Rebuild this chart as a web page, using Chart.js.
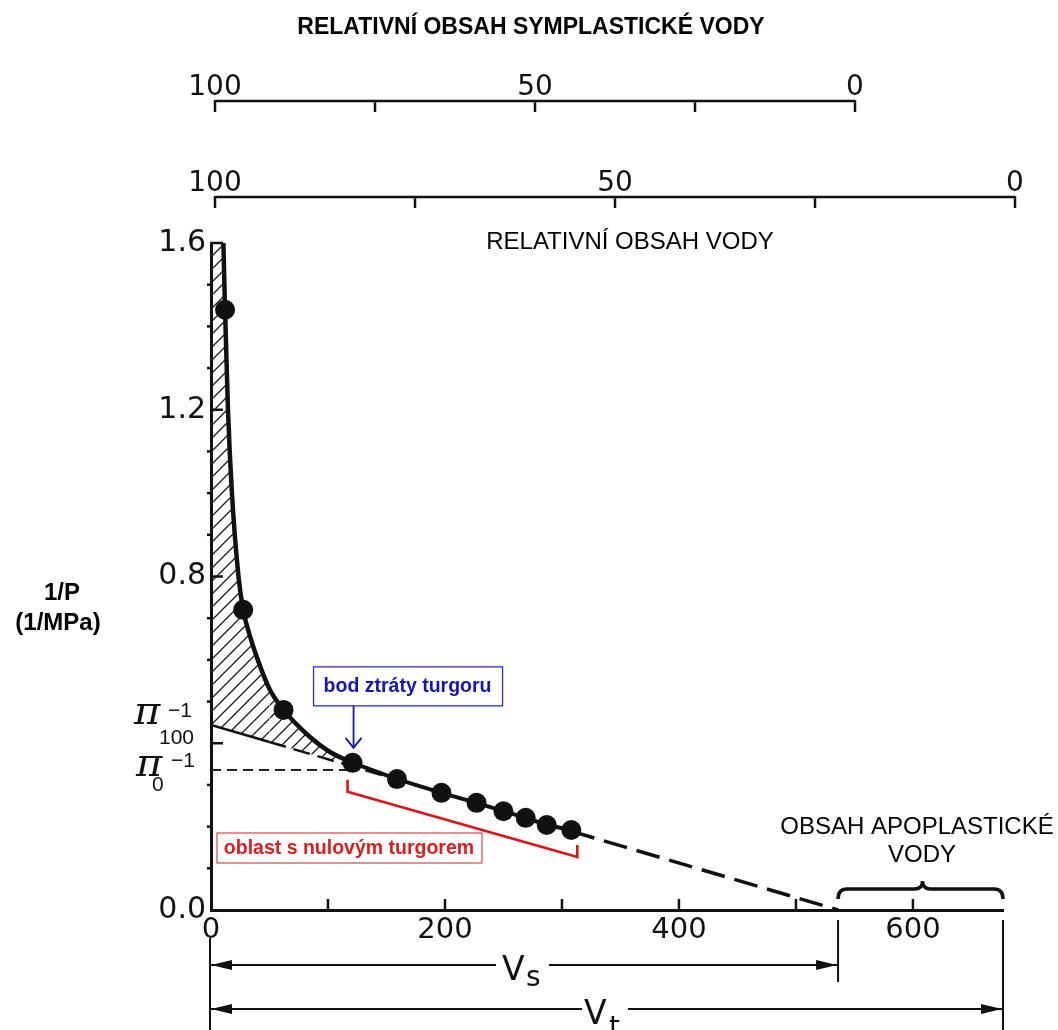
<!DOCTYPE html>
<html>
<head>
<meta charset="utf-8">
<title>Tlakově-objemová křivka</title>
<script src="https://cdn.jsdelivr.net/npm/chart.js@4.4.1/dist/chart.umd.min.js"></script>
<style>
  html, body { margin: 0; padding: 0; background: #fff; }
  #wrap { width: 1058px; height: 1030px; position: relative; }
</style>
</head>
<body>
<div id="wrap"><canvas id="pv"></canvas></div>
<script>
// measured points: expelled volume (x) vs. inverse balancing pressure 1/P (y)
const volume = [12, 27.5, 62, 121, 159, 197, 227, 250, 269, 287, 308];
const invPressure = [1.44, 0.72, 0.48, 0.353, 0.314, 0.281, 0.257, 0.237, 0.221, 0.204, 0.192];

// smooth curve through the turgid part
const curveVolume = [10.6, 12, 14.5, 17.9, 23.5, 27.5, 33, 40, 50, 62, 84.6, 101.7, 121];
const curveInvP = [1.6, 1.44, 1.2, 1.0, 0.8, 0.72, 0.66, 0.60, 0.53, 0.48, 0.415, 0.379, 0.353];

// straight line of the zero-turgor part, extended to both axes
const fitVolume = [0, 50, 308, 536];
const fitInvP = [0.444, 0.403, 0.189, 0];

const invPi0 = 0.336;       // 1/pi at turgor loss
const lossIndex = 3;        // turgor loss point in volume[]
const totalVolume = 677;    // Vt

const xTickValues = [0, 100, 200, 300, 400, 500, 600];
const xTickLabels = ['0', '200', '400', '600'];
const yTickValues = [0, 0.1, 0.2, 0.3, 0.4, 0.5, 0.6, 0.7, 0.8, 0.9, 1.0, 1.1, 1.2, 1.3, 1.4, 1.5, 1.6];
const yMajor = [0.4, 0.8, 1.2, 1.6];
const yTickLabels = ['0.0', '0.8', '1.2', '1.6'];

// upper scales: relative symplastic water content, relative water content
const symTicks = [100, 75, 50, 25, 0];
const rwcTicks = [100, 75, 50, 25, 0];

const ink = '#111';
const numFont = '"DejaVu Sans", sans-serif';
const textFont = '"Liberation Sans", Arial, sans-serif';

function hatchPattern() {
    const c = document.createElement('canvas');
    c.width = c.height = 13;
    const g = c.getContext('2d');
    g.strokeStyle = '#1a1a1a';
    g.lineWidth = 1.3;
    g.beginPath();
    g.moveTo(-1, 14); g.lineTo(14, -1);
    g.moveTo(-1, 1); g.lineTo(1, -1);
    g.moveTo(12, 14); g.lineTo(14, 12);
    g.stroke();
    return document.createElement('canvas').getContext('2d').createPattern(c, 'repeat');
}

const pts = (xs, ys) => xs.map((v, i) => ({ x: v, y: ys[i] }));
const dots = pts(volume, invPressure);
const curve = pts(curveVolume, curveInvP);

function line(ctx, x0, y0, x1, y1) {
    ctx.beginPath(); ctx.moveTo(x0, y0); ctx.lineTo(x1, y1); ctx.stroke();
}

function arrowHead(ctx, tipX, y, dir) {
    ctx.beginPath();
    ctx.moveTo(tipX, y);
    ctx.lineTo(tipX - dir * 21, y - 5);
    ctx.lineTo(tipX - dir * 21, y + 5);
    ctx.closePath();
    ctx.fill();
}

// axes ticks, upper scales, labels and dimension marks
const decor = {
    id: 'decor',
    afterDraw(chart) {
        const { ctx, chartArea: a } = chart;
        const { x, y, sym, rwc } = chart.scales;
        ctx.save();
        ctx.strokeStyle = ink;
        ctx.fillStyle = ink;
        ctx.lineCap = 'butt';

        // inward major ticks, small outer minor ticks
        ctx.lineWidth = 2.5;
        yTickValues.forEach(v => {
            if (v === 0) return;
            const py = y.getPixelForValue(v);
            if (yMajor.includes(v)) line(ctx, a.left, py, a.left + 12, py);
            else line(ctx, a.left - 4, py, a.left, py);
        });
        xTickValues.forEach(v => {
            if (v === 0) return;
            const px = x.getPixelForValue(v);
            line(ctx, px, a.bottom, px, a.bottom - 11);
        });

        // upper scales
        const topAxis = (scale, ticks, ly) => {
            ctx.lineWidth = 2.5;
            line(ctx, scale.getPixelForValue(ticks[0]), ly, scale.getPixelForValue(ticks[ticks.length - 1]), ly);
            ctx.font = '28px ' + numFont;
            ctx.textAlign = 'center';
            ctx.textBaseline = 'alphabetic';
            ticks.forEach(t => {
                const px = scale.getPixelForValue(t);
                line(ctx, px, ly - 1, px, ly + 11);
                if (t % 50 === 0) ctx.fillText(String(t), px, ly - 6);
            });
        };
        topAxis(sym, symTicks, 101);
        topAxis(rwc, rwcTicks, 197);

        ctx.textAlign = 'center';
        ctx.fillStyle = '#000';
        ctx.font = 'bold 23px ' + textFont;
        ctx.fillText('RELATIVNÍ OBSAH SYMPLASTICKÉ VODY', 531, 34);
        ctx.font = '24px ' + textFont;
        ctx.fillText('RELATIVNÍ OBSAH VODY', 630, 249);
        ctx.fillText('OBSAH APOPLASTICKÉ', 917, 834);
        ctx.fillText('VODY', 922, 862);

        // y axis title
        ctx.font = 'bold 24px ' + textFont;
        ctx.fillText('1/P', 62, 600);
        ctx.fillText('(1/MPa)', 58, 630);

        // pi labels on the y axis
        ctx.fillStyle = ink;
        const p100 = y.getPixelForValue(fitInvP[0]);
        const p0 = y.getPixelForValue(invPi0);
        ctx.textAlign = 'left';
        ctx.font = 'italic 40px "DejaVu Serif", serif';
        ctx.fillText('π', 134, p100 - 1);
        ctx.fillText('π', 136, p0 + 6);
        ctx.font = '21px ' + textFont;
        ctx.fillText('−1', 168, p100 - 8);
        ctx.fillText('100', 159, p100 + 19);
        ctx.fillText('−1', 171, p0 - 3);
        ctx.fillText('0', 152, p0 + 21);

        // brace over the apoplastic water
        const pOrigin = x.getPixelForValue(0);
        const pVs = x.getPixelForValue(fitVolume[fitVolume.length - 1]);
        const pVt = x.getPixelForValue(totalVolume);
        const pMid = (pVs + pVt) / 2 + 2;
        const by = a.bottom - 21;
        ctx.lineWidth = 3.5;
        ctx.beginPath();
        ctx.moveTo(pVs, by + 10);
        ctx.quadraticCurveTo(pVs, by, pVs + 9, by);
        ctx.lineTo(pMid - 8, by);
        ctx.quadraticCurveTo(pMid, by, pMid, by - 8);
        ctx.quadraticCurveTo(pMid, by, pMid + 8, by);
        ctx.lineTo(pVt - 9, by);
        ctx.quadraticCurveTo(pVt, by, pVt, by + 10);
        ctx.stroke();

        // Vs and Vt dimension lines
        ctx.lineWidth = 2;
        line(ctx, pOrigin - 1, 938, pOrigin - 1, 1030);
        line(ctx, pVs, 920, pVs, 982);
        line(ctx, pVt, 920, pVt, 1030);
        const ys = 965, yt = 1009;
        line(ctx, pOrigin, ys, 496, ys);
        line(ctx, 549, ys, pVs, ys);
        line(ctx, pOrigin, yt, 582, yt);
        line(ctx, 628, yt, pVt, yt);
        arrowHead(ctx, pOrigin, ys, -1);
        arrowHead(ctx, pVs - 1, ys, 1);
        arrowHead(ctx, pOrigin, yt, -1);
        arrowHead(ctx, pVt - 1, yt, 1);
        ctx.font = '33px ' + numFont;
        ctx.fillText('V', 502, 980);
        ctx.fillText('V', 584, 1024);
        ctx.font = '28px ' + numFont;
        ctx.fillText('s', 526, 986);
        ctx.fillText('t', 609, 1036);

        // turgor loss point callout
        const lx = x.getPixelForValue(volume[lossIndex]);
        const ly = y.getPixelForValue(invPressure[lossIndex]);
        ctx.strokeStyle = '#2d2dd0';
        ctx.fillStyle = '#fff';
        ctx.lineWidth = 1.3;
        ctx.fillRect(lx - 39, ly - 96, 189, 39);
        ctx.strokeRect(lx - 39, ly - 96, 189, 39);
        ctx.fillStyle = '#1414c4';
        ctx.font = 'bold 19.5px ' + textFont;
        ctx.textAlign = 'center';
        ctx.textBaseline = 'middle';
        ctx.fillText('bod ztráty turgoru', lx + 55, ly - 76);
        ctx.strokeStyle = '#1414c4';
        ctx.lineWidth = 1.8;
        line(ctx, lx + 1, ly - 57, lx + 1, ly - 15);
        ctx.beginPath();
        ctx.moveTo(lx - 7, ly - 25); ctx.lineTo(lx + 1, ly - 15); ctx.lineTo(lx + 9, ly - 25);
        ctx.stroke();

        // zero turgor bracket and label
        const last = volume.length - 1;
        const ex = x.getPixelForValue(volume[last]);
        const ey = y.getPixelForValue(invPressure[last]);
        ctx.strokeStyle = '#e01414';
        ctx.lineWidth = 2.6;
        ctx.beginPath();
        ctx.moveTo(lx - 5, ly + 17);
        ctx.lineTo(lx - 5, ly + 29);
        ctx.lineTo(ex + 6, ey + 27);
        ctx.lineTo(ex + 6, ey + 15);
        ctx.stroke();
        ctx.fillStyle = '#fff';
        ctx.strokeStyle = '#d84444';
        ctx.lineWidth = 1.2;
        ctx.fillRect(a.left + 6, 833, 265, 30);
        ctx.strokeRect(a.left + 6, 833, 265, 30);
        ctx.fillStyle = '#e21b1b';
        ctx.font = 'bold 19.5px ' + textFont;
        ctx.fillText('oblast s nulovým turgorem', a.left + 138, 849);

        ctx.restore();
    }
};

new Chart(document.getElementById('pv'), {
    type: 'scatter',
    data: {
        datasets: [
            {
                label: 'měření',
                data: dots,
                showLine: false,
                pointRadius: 10,
                pointHoverRadius: 10,
                pointBackgroundColor: ink,
                pointBorderWidth: 0
            },
            {
                label: 'turgidní úsek',
                data: curve,
                showLine: true,
                borderColor: ink,
                borderWidth: 4.5,
                pointRadius: 0,
                cubicInterpolationMode: 'monotone'
            },
            {
                label: 'nulový turgor',
                data: dots.slice(lossIndex),
                showLine: true,
                borderColor: ink,
                borderWidth: 4,
                pointRadius: 0,
                tension: 0
            },
            {
                label: 'přímka',
                data: pts(fitVolume, fitInvP),
                showLine: true,
                borderColor: ink,
                borderWidth: 2.5,
                pointRadius: 0,
                segment: {
                    borderDash: c => c.p0DataIndex === 0 ? [] : (c.p0DataIndex === 1 ? [17, 8] : [24, 10]),
                    borderWidth: c => c.p0DataIndex === 2 ? 3.5 : 2.5
                }
            },
            {
                label: 'pi0',
                data: [{ x: 0, y: invPi0 }, { x: volume[lossIndex], y: invPi0 }],
                showLine: true,
                borderColor: '#222',
                borderWidth: 2,
                borderDash: [10, 6],
                pointRadius: 0
            },
            {
                label: 'šrafování',
                data: [{ x: 0, y: curveInvP[0] }, ...curve],
                showLine: true,
                borderWidth: 0,
                borderColor: 'rgba(0,0,0,0)',
                pointRadius: 0,
                cubicInterpolationMode: 'monotone',
                fill: 3,
                backgroundColor: hatchPattern()
            }
        ]
    },
    options: {
        responsive: true,
        maintainAspectRatio: false,
        animation: false,
        events: [],
        layout: { padding: { top: 243, right: 55, left: 0, bottom: 0 } },
        plugins: { legend: { display: false }, tooltip: { enabled: false } },
        scales: {
            x: {
                type: 'linear',
                min: 0,
                max: totalVolume,
                afterFit: s => { s.height = 120; },
                afterBuildTicks: s => { s.ticks = xTickValues.map(v => ({ value: v })); },
                grid: { display: false, drawTicks: false },
                border: { display: true, width: 3, color: ink },
                ticks: {
                    autoSkip: false,
                    maxRotation: 0,
                    padding: 3,
                    color: ink,
                    font: { family: numFont, size: 29 },
                    callback: v => xTickLabels.includes(String(v)) ? String(v) : ''
                }
            },
            y: {
                type: 'linear',
                min: 0,
                max: 1.6,
                afterFit: s => { s.width = 211; },
                afterBuildTicks: s => { s.ticks = yTickValues.map(v => ({ value: v })); },
                grid: { display: false, drawTicks: false },
                border: { display: true, width: 3, color: ink },
                ticks: {
                    autoSkip: false,
                    padding: 5,
                    color: ink,
                    font: { family: numFont, size: 30 },
                    callback: v => yTickLabels.includes(v.toFixed(1)) ? v.toFixed(1) : ''
                }
            },
            sym: { type: 'linear', axis: 'x', position: 'top', display: false, reverse: true, min: -23.125, max: 100.625 },
            rwc: { type: 'linear', axis: 'x', position: 'top', display: false, reverse: true, min: 1.5, max: 100.5 }
        }
    },
    plugins: [decor]
});
</script>
</body>
</html>
